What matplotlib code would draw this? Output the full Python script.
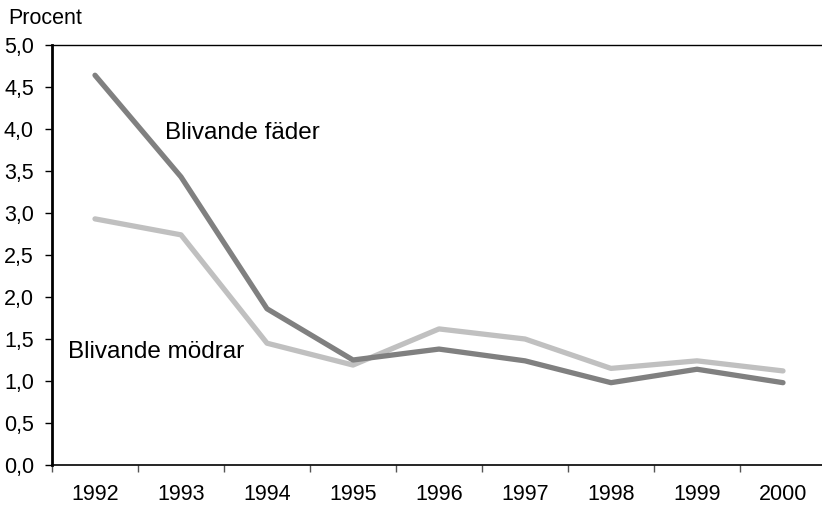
import matplotlib
matplotlib.use("Agg")
import matplotlib.pyplot as plt
import numpy as np

plt.rcParams['font.family'] = ['Liberation Sans', 'DejaVu Sans']

years = ["1992", "1993", "1994", "1995", "1996", "1997", "1998", "1999", "2000"]
fader = [4.64, 3.43, 1.86, 1.25, 1.38, 1.24, 0.98, 1.14, 0.98]
modrar = [2.93, 2.74, 1.45, 1.19, 1.62, 1.50, 1.15, 1.24, 1.12]
yticks = [0.0, 0.5, 1.0, 1.5, 2.0, 2.5, 3.0, 3.5, 4.0, 4.5, 5.0]

W, H = 822, 509
fig = plt.figure(figsize=(W/100, H/100), dpi=100)
left, right, top, bottom = 52, 52 + 9*86, 45, 465
ax = fig.add_axes([left/W, (H-bottom)/H, (right-left)/W, (bottom-top)/H])

x = np.arange(len(years))
ax.plot(x, modrar, color='#c0c0c0', lw=3.8, solid_capstyle='round', solid_joinstyle='round')
ax.plot(x, fader, color='#808080', lw=3.8, solid_capstyle='round', solid_joinstyle='round')

ax.set_xlim(-0.5, len(years) - 0.5)
ax.set_ylim(0, 5.0)
ax.set_yticks(yticks)
ax.set_yticklabels([f"{v:.1f}".replace('.', ',') for v in yticks], fontsize=15.5)
ax.set_xticks(np.arange(len(years) + 1) - 0.5)
ax.set_xticklabels([])
ax.set_xticks(x, minor=True)
ax.set_xticklabels(years, minor=True, fontsize=15.5)
ax.tick_params(axis='x', which='major', length=5, width=1, direction='out', color='#555555')
ax.tick_params(axis='x', which='minor', length=0, pad=14)
ax.tick_params(axis='y', length=5, width=1, direction='out', pad=8)

ax.spines['right'].set_visible(False)
ax.spines['left'].set_linewidth(2)
ax.spines['bottom'].set_linewidth(1.2)
ax.spines['top'].set_linewidth(1)

ax.text(0.81, 3.95, "Blivande fäder", fontsize=17.5, ha='left', va='center')
ax.text(-0.31, 1.35, "Blivande mödrar", fontsize=17.5, ha='left', va='center')
fig.text(8/W, 1 - 18/H, "Procent", fontsize=15.5, ha='left', va='center')

fig.savefig("out.png", dpi=100)
